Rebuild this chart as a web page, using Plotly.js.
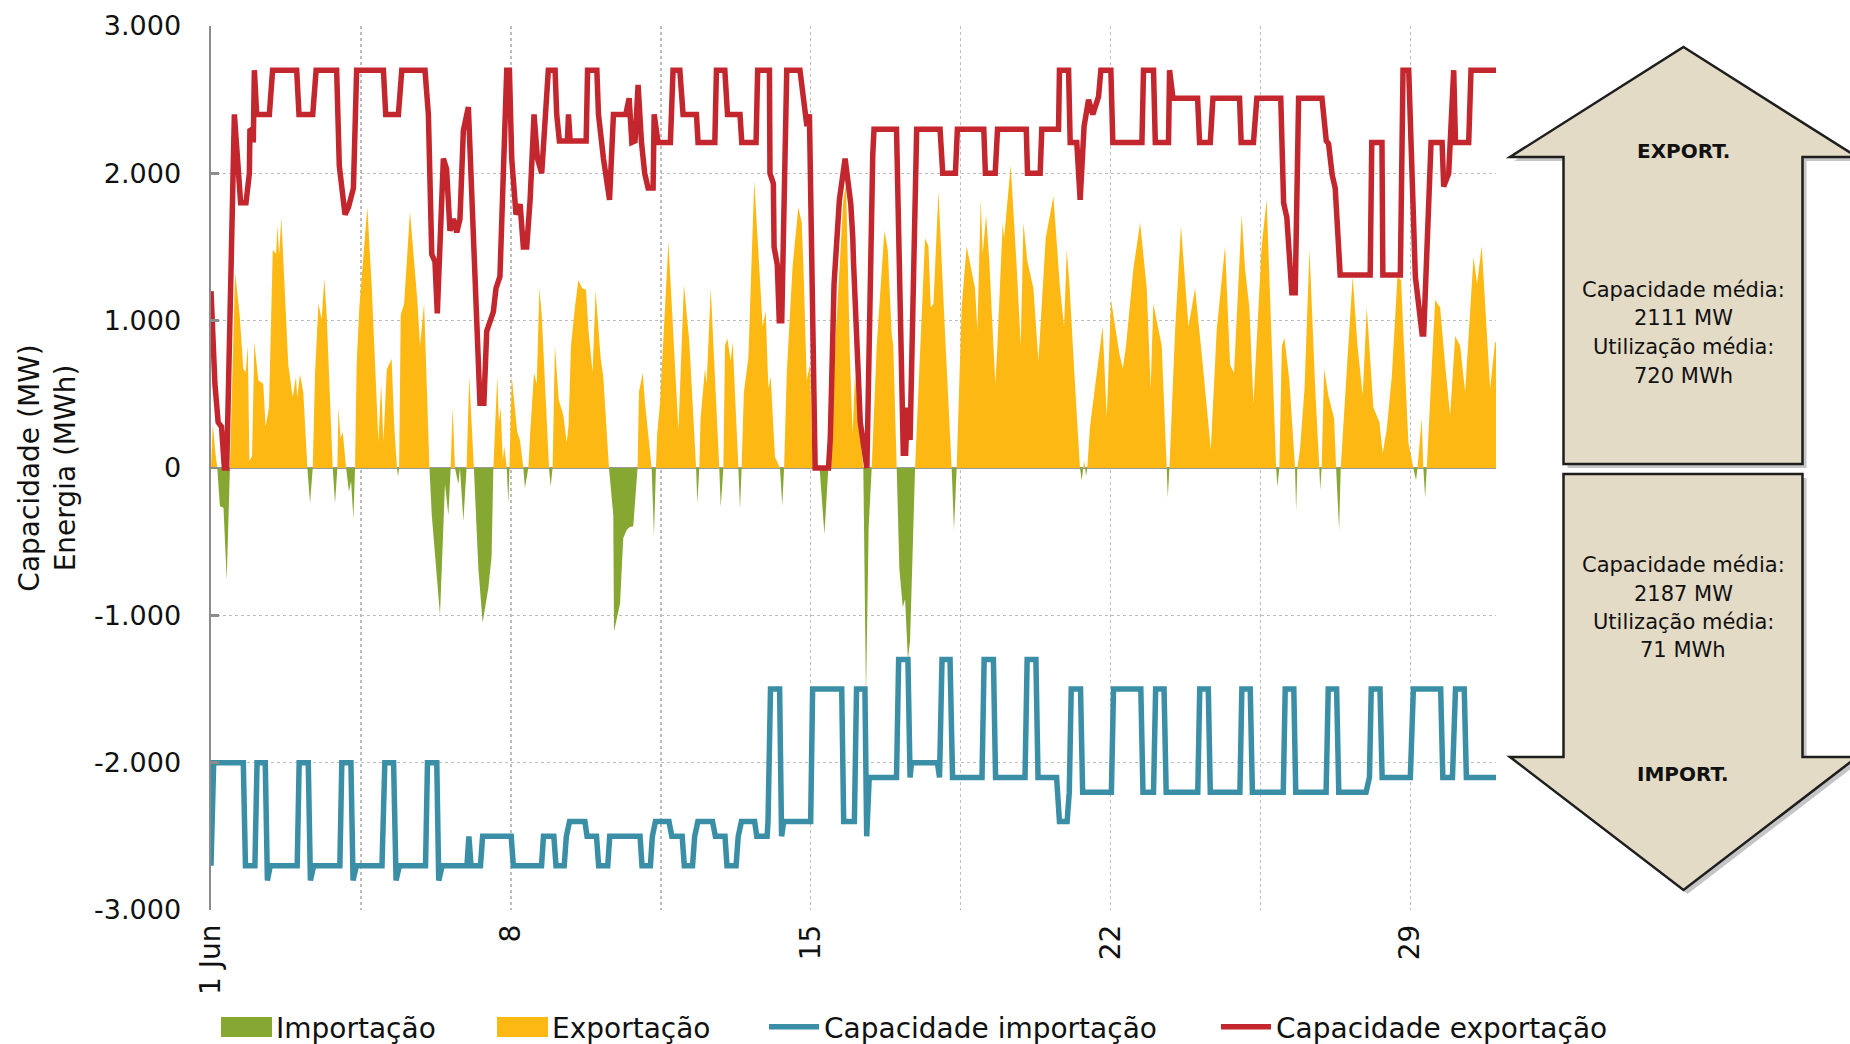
<!DOCTYPE html>
<html><head><meta charset="utf-8">
<script src="https://cdn.plot.ly/plotly-3.0.1.min.js"></script>
<style>html,body{margin:0;padding:0;background:#fff}#chart{width:1850px;height:1044px}</style>
</head><body><div id="chart"></div>
<script>
// ---------- DATA (hours from 1 Jun 00:00, values in MW / MWh) ----------
const seriesNames = ['Importação', 'Exportação', 'Capacidade importação', 'Capacidade exportação'];

// Net flow: positive = exportação, negative = importação
const flow = [[0,0],[1,300],[2.5,100],[3.5,0],[5,-260],[7,-270],[8.8,-760],[10.6,0],[13.5,1325],[16,1050],[18.1,673],[19.5,650],[20.6,830],[21.5,50],[23,80],[24.3,855],[26.5,595],[29.3,570],[30.6,280],[32.5,410],[34.6,1480],[36.5,1455],[37.2,1640],[38.2,1450],[39.4,1700],[43.3,700],[45.8,480],[47.6,620],[48.3,480],[49.9,635],[51.7,515],[54,0],[55.5,-240],[57,0],[58.3,645],[60.2,1115],[62,1010],[63.5,1285],[64.8,1040],[67.1,310],[68.2,0],[69.5,-240],[70.8,0],[71.4,410],[72.6,200],[73.8,245],[75.7,0],[77.3,-160],[78.5,-90],[79.8,-345],[80.7,0],[81.6,700],[83.1,1090],[87.6,1770],[90.1,1220],[93.8,180],[95.3,570],[96.6,180],[98.5,670],[101.2,740],[102.7,280],[104.2,0],[104.8,-60],[105.4,0],[106.3,1040],[108.2,1115],[111.5,1740],[115.6,1140],[117.1,830],[119.4,1115],[122.4,0],[123.7,-320],[128.3,-1000],[131.1,-110],[133,-320],[134.3,0],[135.4,410],[136.7,0],[138.6,-110],[139.5,0],[141.4,-360],[143.2,0],[144.7,620],[146,300],[147.3,0],[149.8,-680],[152.2,-1050],[155.4,-815],[157.2,-605],[158.2,0],[160.4,620],[161.3,310],[162.3,410],[163.5,50],[164.3,150],[165.7,0],[166.6,-240],[167.2,0],[168.5,620],[171.6,245],[173.1,190],[175,0],[175.9,-135],[177.8,0],[178.8,230],[181,645],[182.5,570],[184,1220],[185.3,1040],[187.7,465],[189.4,0],[190.3,-125],[191.4,0],[192.7,830],[194.8,465],[197.4,360],[199.3,175],[200.3,280],[201.7,830],[203.9,1090],[205.8,1275],[208,1220],[210.1,1210],[211.5,935],[213.8,650],[215.5,1205],[218.3,750],[219.8,620],[223,0],[225.4,-320],[225.8,-1110],[229.2,-920],[231,-475],[232.9,-420],[234.7,-400],[236.6,-395],[238.5,-85],[239,0],[239.8,515],[241.9,645],[243.2,440],[246.9,0],[248.2,-460],[249.3,0],[250,230],[251.6,440],[256.3,1535],[260.5,570],[261.9,255],[265,1245],[268,855],[271.8,0],[272.5,-240],[273.6,0],[274.3,335],[276.8,675],[277.7,570],[280,1220],[284.8,0],[285.6,-265],[287.1,0],[288,830],[289.3,880],[291.2,725],[292.3,855],[295.5,0],[296.4,-280],[297.3,0],[298.6,515],[301.1,750],[304.4,1950],[307.6,1220],[309.1,960],[310.8,1065],[312.3,540],[313.6,620],[316,75],[318.8,0],[320.1,-255],[321.1,0],[322.6,645],[325.9,1375],[329.1,1770],[331,1665],[332,1350],[333.8,595],[335.6,700],[337.1,0],[341,0],[343.7,-450],[345.9,0],[346.8,205],[354.3,1820],[355.8,1925],[358,750],[359.5,230],[360.8,620],[365.5,0],[367,-1550],[368.5,-400],[370.2,0],[373,830],[375.8,1350],[377.3,1610],[379.2,1480],[381.4,910],[382.3,830],[384.2,0],[385.7,-685],[387.6,-945],[388.9,-890],[390.5,-1300],[391.7,-1170],[394.5,0],[396.9,675],[400.1,1560],[402,1505],[403.3,1090],[404.8,1115],[407.6,1875],[411.3,910],[415,0],[416.3,-420],[417.8,0],[420.6,1090],[423.4,1505],[428.1,1220],[429.4,935],[431.3,1820],[432.4,1455],[434.3,1715],[436.1,1405],[438.4,830],[439.5,570],[440.6,830],[443.6,1665],[444.4,1560],[448.1,2055],[451.5,1350],[453.7,830],[455.2,1665],[457.4,1405],[460.8,1220],[463.6,725],[467.7,1560],[472,1845],[475.7,1220],[478,960],[479.5,1480],[481,1245],[484.1,570],[486.9,0],[487.9,-85],[488.7,0],[489.2,45],[489.8,0],[490.3,-55],[491,0],[492.5,280],[496.7,700],[499.6,960],[501.9,345],[504.3,1140],[509,775],[510.9,675],[512.7,830],[516.8,1350],[520.6,1665],[524.3,1220],[526.5,540],[528,1115],[532.7,830],[535.5,0],[536.1,-200],[537,0],[540.2,935],[543.5,1640],[547.7,960],[551.4,1220],[555.7,700],[560.2,125],[563.5,935],[568.2,1505],[571,700],[573.2,645],[577.5,1715],[579.4,1350],[581.8,1090],[584.1,440],[588.7,1505],[591.5,1820],[596.8,0],[597.5,-125],[598.6,0],[600,830],[601.5,880],[604.2,595],[607.4,0],[608,-290],[608.7,0],[610.2,125],[612.7,540],[615.5,1480],[618.6,570],[621,0],[621.5,-150],[622.3,0],[623.7,675],[626.1,490],[629.3,335],[630.4,0],[632.1,-420],[633,0],[636.7,725],[639.7,1300],[642.4,830],[645.3,490],[647.6,1090],[651.3,410],[654.7,310],[656.5,100],[658.7,255],[661.6,620],[664.8,1300],[666.8,1275],[670.9,175],[673.7,0],[675.2,-85],[676,0],[678.4,335],[679.3,0],[680.3,-200],[681.2,0],[685.9,1140],[688.7,1090],[691.5,700],[694.3,360],[697.1,895],[699.9,830],[702.7,515],[707.4,1430],[709.4,1250],[712,1505],[716.7,540],[719.5,855],[720,850]];

// Export capacity (MW)
const capExport = [[0,1200],[2.2,570],[4,310],[5.9,280],[7.5,0],[8.8,0],[13.1,2400],[16.6,1800],[19.6,1800],[21.5,2000],[21.8,2290],[23.2,2300],[23.7,2210],[24.3,2700],[25.6,2400],[32.7,2400],[34.5,2700],[48,2700],[49.3,2400],[57,2400],[58.9,2700],[70.4,2700],[71.9,2050],[75.1,1720],[77,1770],[79.8,1900],[81.6,2700],[96.6,2700],[97.9,2400],[105,2400],[106.9,2700],[119.9,2700],[121.8,2400],[123.7,1450],[125.5,1400],[126.8,1050],[130.2,2100],[132,2030],[133.9,1610],[135.8,1690],[137.7,1600],[139.5,1690],[141.4,2290],[144.2,2450],[150.7,440],[152.9,440],[154.5,930],[156.4,1010],[158.2,1060],[159.7,1220],[161.9,1300],[165.7,2700],[167.2,2700],[168.5,2100],[170.9,1720],[173.2,1790],[175,1500],[176.9,1500],[178.8,1820],[181,2400],[182.9,2100],[185.3,2000],[189,2700],[192.8,2700],[193.7,2400],[195.2,2220],[199.7,2220],[200.3,2400],[201.2,2220],[210.2,2220],[211,2700],[216.2,2700],[217.1,2400],[219.9,2100],[223.3,1820],[225.5,2400],[232.4,2400],[234.3,2510],[235.8,2210],[237.6,2220],[239.3,2600],[241.2,2210],[243,2000],[244.9,1900],[247.7,1900],[248.3,2400],[250.5,2210],[257.4,2210],[258.9,2700],[262.7,2700],[264.5,2400],[272,2400],[272.9,2210],[282.3,2210],[283.2,2700],[287.9,2700],[289.4,2400],[296.4,2400],[297.4,2210],[305.4,2210],[306.3,2700],[312.9,2700],[313.2,2000],[315.1,1930],[315.5,1500],[317.3,1380],[318.4,1000],[319.8,1000],[322.6,2700],[330,2700],[332.9,2420],[333.9,2320],[335.3,2400],[338.5,0],[346,0],[347,200],[349.1,1250],[350.6,1510],[352.1,1820],[355.3,2100],[358.5,1790],[359.6,1560],[360,1400],[363.8,310],[365.3,180],[367.5,0],[370.8,2130],[371.5,2300],[384.1,2300],[387.3,410],[387.9,100],[389.2,100],[390.2,410],[391.7,190],[395.4,2300],[408.5,2300],[410,2000],[417.1,2000],[418.2,2300],[433,2300],[433.9,2000],[439.4,2000],[440.7,2300],[456.8,2300],[457.5,2000],[464.6,2000],[465.5,2300],[474.9,2300],[475.4,2700],[480.5,2700],[481.4,2210],[485.1,2210],[487,1820],[489.2,2320],[491.7,2500],[494.1,2400],[497.3,2520],[498.6,2700],[504.2,2700],[505.3,2210],[521.6,2210],[522.5,2700],[528.1,2700],[529.1,2210],[536.5,2210],[537.1,2700],[539,2510],[552.8,2510],[553.9,2210],[559.9,2210],[561.4,2510],[576.3,2510],[577.2,2210],[584.1,2210],[586,2510],[599.4,2510],[601,1800],[602.8,1700],[604.7,1300],[605.6,1190],[607.5,1190],[609.4,2510],[622.5,2510],[624.9,2220],[626.2,2200],[627.4,2000],[628.2,1990],[629.9,1900],[632.7,1310],[649.5,1310],[650.4,2210],[656.1,2210],[656.6,1310],[666.4,1310],[667.9,2700],[671.1,2700],[672.9,1870],[674.8,1300],[678.6,910],[679.5,910],[683.6,2210],[689.8,2210],[690.7,1910],[693.5,2000],[696.3,2700],[697.3,2210],[704.7,2210],[706,2700],[720,2700]];

// Import capacity (MW, drawn negative)
const capImport = [[0,-2700],[1.5,-2000],[18.1,-2000],[19.3,-2700],[24.6,-2700],[25.8,-2000],[30.4,-2000],[31.6,-2800],[33.2,-2700],[48.3,-2700],[49.4,-2000],[54.5,-2000],[55.7,-2800],[57.5,-2700],[72.2,-2700],[73.3,-2000],[78.4,-2000],[79.6,-2800],[81.4,-2700],[95.8,-2700],[97.4,-2000],[102.3,-2000],[103.7,-2800],[105.5,-2700],[120.2,-2700],[121.3,-2000],[126.5,-2000],[127.6,-2800],[129.5,-2700],[143.4,-2700],[144.5,-2500],[145.7,-2700],[151,-2700],[152.2,-2500],[168.2,-2500],[169.4,-2700],[185.2,-2700],[186.3,-2500],[192.1,-2500],[193.3,-2700],[197.9,-2700],[199.1,-2500],[200.9,-2400],[209.5,-2400],[210.7,-2500],[216,-2500],[217.2,-2700],[222.3,-2700],[223.4,-2500],[240.4,-2500],[241.5,-2700],[246.2,-2700],[247.3,-2500],[249,-2400],[256.6,-2400],[258.2,-2500],[264,-2500],[265.2,-2700],[269.8,-2700],[271,-2500],[272.8,-2400],[281,-2400],[282.6,-2500],[288,-2500],[289.1,-2700],[294.2,-2700],[295.4,-2500],[297.2,-2400],[304.6,-2400],[305.8,-2500],[311.6,-2500],[312.1,-2400],[313.5,-1500],[318.6,-1500],[319.7,-2500],[320.9,-2400],[336,-2400],[337.1,-1500],[353.4,-1500],[354.5,-2400],[360.5,-2400],[361.7,-1500],[366.4,-1500],[367.4,-2500],[368.8,-2100],[384.1,-2100],[385.3,-1300],[390.5,-1300],[391.7,-2100],[392.5,-2000],[407,-2000],[408.2,-2100],[409.6,-1300],[414.1,-1300],[415.5,-2100],[432,-2100],[433.2,-1300],[438.4,-1300],[439.6,-2100],[456.1,-2100],[457.3,-1300],[462.2,-1300],[463.4,-2100],[473.8,-2100],[475.4,-2400],[479.7,-2400],[480.9,-2200],[482,-1500],[487.2,-1500],[488.4,-2200],[504.5,-2200],[505.7,-1500],[521,-1500],[522.2,-2200],[528.1,-2200],[529.3,-1500],[534,-1500],[535.2,-2200],[552.9,-2200],[554,-1500],[558.8,-1500],[559.9,-2200],[576.5,-2200],[577.6,-1500],[582.3,-1500],[583.5,-2200],[600.8,-2200],[601.9,-1500],[606.7,-1500],[607.8,-2200],[624.8,-2200],[626,-1500],[630.7,-1500],[631.9,-2200],[647.2,-2200],[649.1,-2100],[650.1,-1500],[655,-1500],[656.2,-2100],[672,-2100],[673.7,-1500],[689,-1500],[690.2,-2100],[695.6,-2100],[697.3,-1500],[702.2,-1500],[703.4,-2100],[720,-2100]];

// Axis ticks
const xTickDays = [0, 3.5, 7, 10.5, 14, 17.5, 21, 24.5, 28];
const xTickLabels = ['1 Jun', '', '8', '', '15', '', '22', '', '29'];
const yTickVals = [-3000, -2000, -1000, 0, 1000, 2000, 3000];
const yTickLabels = ['-3.000', '-2.000', '-1.000', '0', '1.000', '2.000', '3.000'];

// Side panel texts
const exportLabel = 'EXPORT.';
const importLabel = 'IMPORT.';
const exportStats = ['Capacidade média:', '2111 MW', 'Utilização média:', '720 MWh'];
const importStats = ['Capacidade média:', '2187 MW', 'Utilização média:', '71 MWh'];

// ---------- BUILD ----------
const BASE = Date.UTC(2023, 5, 1);
function toDate(h) {
  return new Date(BASE + Math.round(h * 3600000)).toISOString().slice(0, 19).replace('T', ' ');
}
const FONT = 'DejaVu Sans, Verdana, sans-serif';
const C = {green: '#86A833', yellow: '#FDB813', blue: '#3A8FA7', red: '#C4262E', grid: '#BDBDBD', axis: '#8C8C8C'};

const flowX = flow.map(p => toDate(p[0]));
const traces = [
  {name: seriesNames[0], x: flowX, y: flow.map(p => Math.min(p[1], 0)), type: 'scatter', mode: 'lines',
   fill: 'tozeroy', fillcolor: C.green, line: {width: 0, color: C.green}, legend: 'legend', hoverinfo: 'skip'},
  {name: seriesNames[1], x: flowX, y: flow.map(p => Math.max(p[1], 0)), type: 'scatter', mode: 'lines',
   fill: 'tozeroy', fillcolor: C.yellow, line: {width: 0, color: C.yellow}, legend: 'legend2', hoverinfo: 'skip'},
  {name: seriesNames[2], x: capImport.map(p => toDate(p[0])), y: capImport.map(p => p[1]), type: 'scatter', mode: 'lines',
   line: {width: 5.5, color: C.blue}, legend: 'legend3'},
  {name: seriesNames[3], x: capExport.map(p => toDate(p[0])), y: capExport.map(p => p[1]), type: 'scatter', mode: 'lines',
   line: {width: 5.5, color: C.red}, legend: 'legend4'}
];

// pixel -> paper helpers (plot area: x 211..1496, y 26..910)
const L = 211, R = 354, T = 26, B = 134, W = 1850, H = 1044;
const PW = W - L - R, PH = H - T - B;
const px = X => (X - L) / PW;
const py = Y => (H - B - Y) / PH;
function pathFrom(pts, dx, dy) {
  return pts.map((p, i) => (i ? 'L' : 'M') + px(p[0] + dx).toFixed(5) + ',' + py(p[1] + dy).toFixed(5)).join(' ') + ' Z';
}
const upArrow = [[1683.5, 47], [1857, 157], [1802.5, 157], [1802.5, 464], [1563.5, 464], [1563.5, 157], [1510, 157]];
const downArrow = [[1563.5, 474], [1802.5, 474], [1802.5, 757], [1857, 757], [1683.5, 890], [1510, 757], [1563.5, 757]];
const shapes = [];
[upArrow, downArrow].forEach(a => {
  shapes.push({type: 'path', xref: 'paper', yref: 'paper', path: pathFrom(a, 4, 4), fillcolor: 'rgba(90,90,90,0.35)', line: {width: 0}, layer: 'above'});
});
[upArrow, downArrow].forEach(a => {
  shapes.push({type: 'path', xref: 'paper', yref: 'paper', path: pathFrom(a, 0, 0), fillcolor: '#E3DBC6', line: {width: 2.5, color: '#1E1E1E'}, layer: 'above'});
});
// square swatches for the two area series in the legend
[[221, C.green], [497, C.yellow]].forEach(s => {
  shapes.push({type: 'rect', xref: 'paper', yref: 'paper', x0: px(s[0]), x1: px(s[0] + 51), y0: py(1037), y1: py(1017),
    fillcolor: s[1], line: {width: 0}, layer: 'above'});
});

const annotations = [];
const cx = px(1683);
annotations.push({xref: 'paper', yref: 'paper', x: cx, y: py(151), text: '<b>' + exportLabel + '</b>', showarrow: false, xanchor: 'center', yanchor: 'middle', font: {family: FONT, size: 20, color: '#111'}});
annotations.push({xref: 'paper', yref: 'paper', x: cx, y: py(774), text: '<b>' + importLabel + '</b>', showarrow: false, xanchor: 'center', yanchor: 'middle', font: {family: FONT, size: 20, color: '#111'}});
const expY = [289.5, 318, 346.5, 375.5], impY = [565, 594, 622, 650.5];
exportStats.forEach((t, i) => annotations.push({xref: 'paper', yref: 'paper', x: cx, y: py(expY[i]), text: t, showarrow: false, xanchor: 'center', yanchor: 'middle', font: {family: FONT, size: 21, color: '#111'}}));
importStats.forEach((t, i) => annotations.push({xref: 'paper', yref: 'paper', x: cx, y: py(impY[i]), text: t, showarrow: false, xanchor: 'center', yanchor: 'middle', font: {family: FONT, size: 21, color: '#111'}}));

const legendBase = {orientation: 'h', xref: 'container', yref: 'container', xanchor: 'left', yanchor: 'middle',
  y: 1 - 1027 / H, font: {family: FONT, size: 28, color: '#111'},
  bgcolor: 'rgba(0,0,0,0)', borderwidth: 0, itemwidth: 50, itemclick: false, itemdoubleclick: false};

const layout = {
  width: W, height: H,
  margin: {l: L, r: R, t: T, b: B, pad: 0, autoexpand: false},
  paper_bgcolor: '#fff', plot_bgcolor: '#fff',
  font: {family: FONT, color: '#111'},
  showlegend: true,
  legend: Object.assign({}, legendBase, {x: 216 / W}),
  legend2: Object.assign({}, legendBase, {x: 492 / W}),
  legend3: Object.assign({}, legendBase, {x: 764 / W}),
  legend4: Object.assign({}, legendBase, {x: 1216 / W}),
  xaxis: {
    type: 'date', range: [toDate(0), toDate(720)],
    tickvals: xTickDays.map(d => toDate(d * 24)), ticktext: xTickLabels,
    tickangle: -90, tickfont: {family: FONT, size: 28, color: '#111'},
    showgrid: true, gridcolor: C.grid, griddash: 'dot', gridwidth: 1.5,
    showline: false, ticks: '', zeroline: false, ticklabelstandoff: 8, fixedrange: true, automargin: false
  },
  yaxis: {
    range: [-3000, 3000], tickvals: yTickVals, ticktext: yTickLabels,
    tickfont: {family: FONT, size: 27, color: '#111'},
    showgrid: true, gridcolor: C.grid, griddash: 'dot', gridwidth: 1.5,
    zeroline: true, zerolinecolor: '#9A9A9A', zerolinewidth: 2.5,
    showline: true, linecolor: C.axis, linewidth: 2.5,
    ticks: 'inside', ticklen: 8, tickwidth: 2.5, tickcolor: C.axis,
    ticklabelstandoff: 22, fixedrange: true, automargin: false,
    title: {text: 'Capacidade (MW)<br>Energia (MWh)', font: {family: FONT, size: 28, color: '#111'}, standoff: 10}
  },
  shapes: shapes,
  annotations: annotations
};

Plotly.newPlot('chart', traces, layout, {displayModeBar: false, staticPlot: true});
</script>
</body></html>
